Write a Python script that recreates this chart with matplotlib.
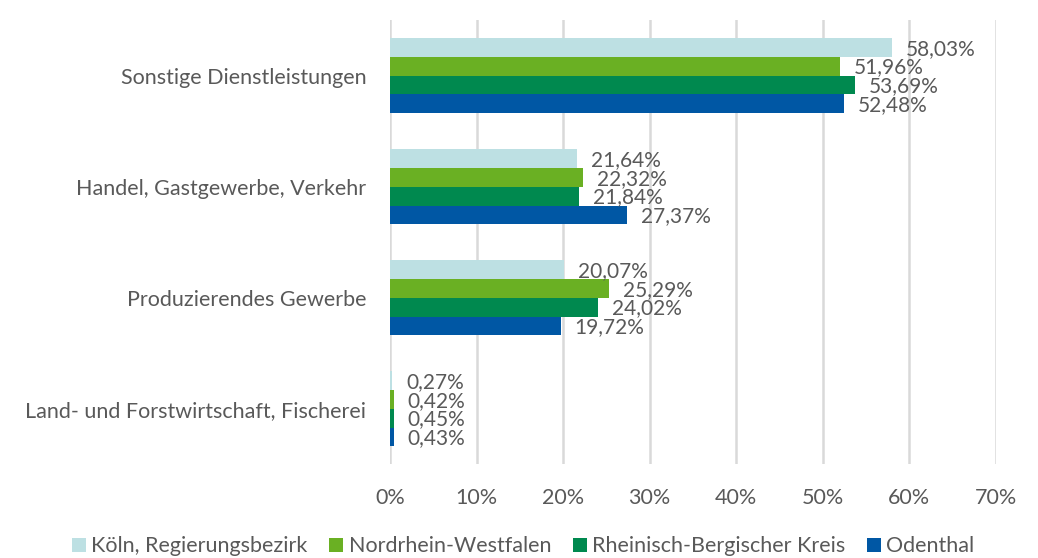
import numpy as np
import matplotlib.pyplot as plt

plt.rcParams['font.family'] = ['Lato', 'DejaVu Sans']

categories = ["Sonstige Dienstleistungen", "Handel, Gastgewerbe, Verkehr",
              "Produzierendes Gewerbe", "Land- und Forstwirtschaft, Fischerei"]
series_names = ["Köln, Regierungsbezirk", "Nordrhein-Westfalen",
                "Rheinisch-Bergischer Kreis", "Odenthal"]
koeln = [58.03, 21.64, 20.07, 0.27]
nrw = [51.96, 22.32, 25.29, 0.42]
rbk = [53.69, 21.84, 24.02, 0.45]
odenthal = [52.48, 27.37, 19.72, 0.43]
series = [koeln, nrw, rbk, odenthal]
colors = ["#BDE0E3", "#6AB023", "#00894F", "#0057A4"]
text_col = "#595959"

fig = plt.figure(figsize=(10.38, 5.58), dpi=100)
ax = fig.add_axes([0.3757, 0.168, 0.5838, 0.796])

y = np.arange(len(categories))
h = 0.17
for i, (vals, col, name) in enumerate(zip(series, colors, series_names)):
    pos = y + (i - 1.5) * h
    ax.barh(pos, vals, height=h, color=col, label=name, zorder=3)
    for p, v in zip(pos, vals):
        ax.annotate(("%.2f%%" % v).replace(".", ","), (v, p), xytext=(10, -1),
                    textcoords="offset points", va="center", ha="left",
                    fontsize=15, color=text_col, zorder=4)

ax.set_xlim(0, 70)
ax.set_ylim(3.5, -0.5)
ax.set_xticks(np.arange(0, 71, 10))
ax.set_xticklabels(["%d%%" % t for t in range(0, 71, 10)])
ax.set_yticks(y)
ax.set_yticklabels(categories)
ax.tick_params(length=0, labelsize=15.5, colors=text_col)
ax.tick_params(axis="y", pad=17)
ax.tick_params(axis="x", pad=17)
ax.grid(axis="x", color="#D9D9D9", linewidth=1.8, zorder=0)
for s in ax.spines.values():
    s.set_visible(False)

fig.legend(loc="lower center", bbox_to_anchor=(0.504, -0.032), ncol=4, frameon=False,
           fontsize=15.5, handlelength=0.65, handleheight=0.65, handletextpad=0.25,
           columnspacing=1.0, labelcolor=text_col)

fig.savefig("out.png", dpi=100)
